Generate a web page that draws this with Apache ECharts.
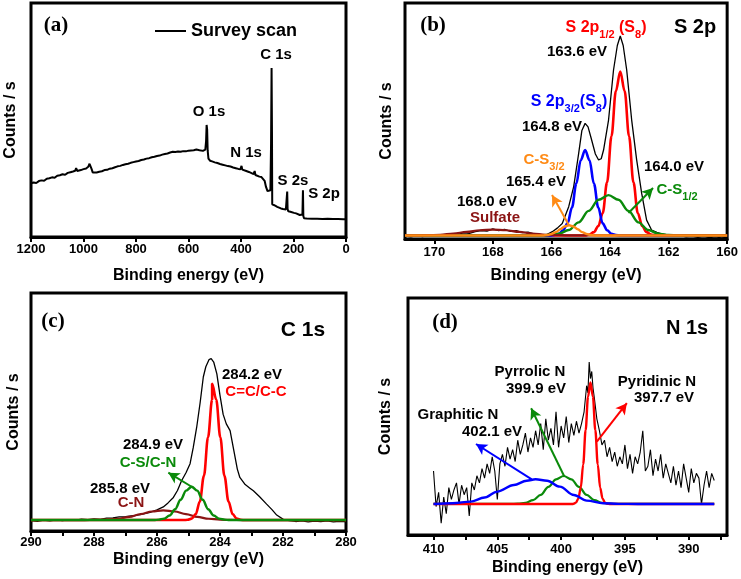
<!DOCTYPE html>
<html><head><meta charset="utf-8">
<script src="https://cdn.jsdelivr.net/npm/echarts@6/dist/echarts.min.js"></script>
<style>html,body{margin:0;padding:0;background:#fff}#c{width:741px;height:579px}</style>
</head><body><div id="c"></div>
<script>
// ---------- DATA ----------
// (a) survey scan: [binding energy eV, counts (arb.)]
const survey = [[1200,23.0],[1190,23.3],[1180,23.1],[1170,23.9],[1160,24.2],[1150,24.0],[1140,24.9],[1130,25.1],[1120,25.5],[1110,25.3],[1100,26.2],[1090,26.4],[1080,26.8],[1070,26.6],[1060,27.4],[1050,27.7],[1040,28.0],[1032,28.3],[1028,29.4],[1024,28.2],[1010,28.6],[1000,29.0],[990,29.3],[982,30.0],[977,31.3],[973,31.0],[969,29.0],[965,27.6],[958,27.4],[950,27.6],[940,27.9],[930,28.1],[920,28.6],[910,28.7],[900,29.2],[890,29.4],[880,29.8],[870,30.2],[860,30.4],[850,30.8],[840,31.1],[830,31.3],[820,31.7],[810,32.0],[800,32.3],[790,32.5],[780,32.9],[770,33.1],[760,33.5],[750,33.7],[740,34.1],[730,34.3],[720,34.6],[710,34.8],[700,35.2],[690,35.5],[680,35.7],[670,36.1],[660,36.4],[650,36.3],[640,36.5],[630,36.4],[620,36.7],[610,36.6],[600,36.9],[590,37.0],[580,37.1],[570,37.4],[563,38.0],[558,37.1],[552,36.3],[545,36.8],[536,37.3],[533,41],[531,47.9],[529,46],[527,37],[524,33.5],[518,32.6],[510,32.3],[500,31.9],[490,31.6],[480,31.2],[470,30.9],[460,30.6],[450,30.3],[440,30.1],[430,29.7],[420,29.4],[410,29.1],[402,29.0],[398,30.4],[395,28.8],[390,28.6],[380,28.2],[370,27.8],[360,27.3],[352,26.9],[348,28.2],[345,26.5],[340,26.3],[330,25.8],[322,25.6],[316,25.2],[310,24.0],[305,21.5],[299,19.6],[292,18.9],[288,20],[285.5,40],[283.5,72.2],[282,45],[281,14.0],[277,13.9],[270,13.4],[262,12.9],[255,12.6],[248,12.2],[240,12.0],[233,11.6],[229,11.8],[225.5,12],[224,19.4],[222.5,12],[220,11.0],[212,10.8],[205,10.7],[198,10.3],[190,10.1],[183,9.6],[176,9.4],[169,9.3],[166,9.6],[164,20.0],[162.5,9],[160,8.0],[150,7.9],[130,7.8],[110,7.8],[90,7.7],[70,7.8],[50,7.7],[30,7.7],[10,7.6],[0,7.6]];

// (b) S 2p
const s2pRaw = [[171.0,1.2],[170.8,0.9],[170.6,1.4],[170.4,1.0],[170.2,1.6],[170.0,1.3],[169.8,1.8],[169.6,1.5],[169.4,2.2],[169.2,2.0],[169.0,2.6],[168.8,2.4],[168.6,3.1],[168.4,3.6],[168.2,3.3],[168.0,4.3],[167.8,3.6],[167.6,4.1],[167.4,3.2],[167.2,3.5],[167.0,2.7],[166.8,2.9],[166.6,2.2],[166.4,1.9],[166.2,1.6],[165.97,3.1],[165.8,4.6],[165.63,6.6],[165.41,13.7],[165.24,22.2],[165.07,36.3],[164.96,46],[164.85,49],[164.75,47.5],[164.65,43],[164.5,36],[164.39,33.5],[164.3,34],[164.22,37.7],[164.05,50.4],[163.88,71.6],[163.75,82],[163.65,86],[163.55,82],[163.43,71.6],[163.26,50.4],[163.09,33.5],[162.92,19.4],[162.75,8.0],[162.58,3.8],[162.4,2.8],[162.24,2.2],[162.0,1.7],[161.8,1.2],[161.6,1.4],[161.4,0.9],[161.2,1.1],[161.0,0.7],[160.8,1.0],[160.6,0.6],[160.4,0.9],[160.2,0.5],[160.0,0.7]];
const s2p12 = [[171,1.5],[164.85,1.5],[164.7,1.9],[164.55,2.9],[164.4,5.5],[164.25,10.9],[164.1,24.0],[163.95,43.5],[163.8,62.7],[163.65,71.0],[163.5,62.7],[163.35,43.5],[163.2,24.0],[163.05,10.9],[162.9,5.5],[162.75,2.9],[162.6,1.9],[162.45,1.5],[160,1.5]];
const s2p32 = [[171,1.5],[166.05,1.5],[165.9,1.7],[165.75,2.2],[165.6,3.7],[165.45,6.6],[165.3,13.3],[165.15,23.5],[165.0,33.4],[164.85,37.7],[164.7,33.4],[164.55,23.5],[164.4,13.3],[164.25,6.6],[164.1,3.7],[163.95,2.2],[163.8,1.7],[163.65,1.5],[160,1.5]];
const cs12 = [[171,1.5],[166.45,1.5],[166.09,1.7],[165.75,2.25],[165.41,3.8],[165.07,7.05],[164.73,11.9],[164.39,16.6],[164.05,18.6],[163.71,16.6],[163.37,11.9],[163.03,7.05],[162.69,3.8],[162.35,2.25],[162.01,1.7],[161.65,1.5],[160,1.5]];
const cs32 = [[171,1.5],[166.3,1.5],[166.15,1.7],[166.0,2.1],[165.85,2.9],[165.7,4.1],[165.55,5.3],[165.4,5.8],[165.25,5.3],[165.1,4.1],[164.95,2.9],[164.8,2.1],[164.65,1.7],[164.5,1.5],[160,1.5]];
const sulfate = [[171,1.5],[170.7,1.5],[170.25,1.6],[169.8,1.8],[169.35,2.3],[168.9,3.0],[168.45,3.7],[168.0,4.0],[167.55,3.7],[167.1,3.0],[166.65,2.3],[166.2,1.8],[165.75,1.6],[165.3,1.5],[160,1.5]];

// (c) C 1s
const c1sRaw = [[290.0,4.4],[289.8,4.1],[289.6,4.6],[289.4,4.3],[289.2,4.7],[289.0,4.4],[288.8,4.8],[288.6,4.5],[288.4,5.0],[288.2,4.8],[288.0,5.1],[287.8,4.9],[287.6,5.4],[287.4,5.5],[287.2,5.9],[287.0,6.0],[286.75,6.4],[286.5,7.0],[286.22,7.8],[286.0,8.9],[285.8,10.1],[285.65,11.8],[285.48,14.1],[285.35,17.0],[285.22,21.1],[285.08,24.5],[284.95,28.3],[284.85,35],[284.74,43.6],[284.63,54],[284.53,64.7],[284.45,69],[284.35,72],[284.28,72.4],[284.2,71],[284.1,66],[284.0,57],[283.9,49],[283.8,45],[283.68,42.2],[283.55,33],[283.45,26],[283.37,22.5],[283.2,19.5],[283.05,18.0],[282.94,16.9],[282.75,14.5],[282.52,11.3],[282.35,9.0],[282.2,6.7],[281.99,4.9],[281.8,4.4],[281.6,4.0],[281.4,4.3],[281.2,3.8],[281.0,4.2],[280.8,3.9],[280.6,4.3],[280.4,3.8],[280.2,4.1],[280.0,4.0]];
const cc = [[290,4.6],[285.16,4.6],[285.03,4.7],[284.9,5.2],[284.77,7.1],[284.64,12.4],[284.51,23.2],[284.38,39.4],[284.25,55.2],[284.25,61.9],[284.12,55.2],[283.99,39.4],[283.86,23.2],[283.73,12.4],[283.6,7.1],[283.47,5.2],[283.34,4.7],[283.2,4.6],[280,4.6]];
const csCn = [[290,4.6],[286.1,4.6],[285.95,4.76],[285.775,5.2],[285.6,6.5],[285.425,9.15],[285.25,13.1],[285.075,16.96],[284.9,18.6],[284.725,16.96],[284.55,13.1],[284.375,9.15],[284.2,6.5],[284.025,5.2],[283.85,4.76],[283.7,4.6],[280,4.6]];
const cn = [[290,4.6],[288.3,4.6],[287.96,4.65],[287.6,4.78],[287.24,5.15],[286.88,5.9],[286.52,7.1],[286.16,8.2],[285.8,8.7],[285.44,8.2],[285.08,7.1],[284.72,5.9],[284.36,5.15],[284.0,4.78],[283.64,4.65],[283.3,4.6],[280,4.6]];

// (d) N 1s
const n1sRaw = [[410.0,27],[409.8,12],[409.6,18],[409.4,5],[409.2,16],[409.0,9],[408.8,20],[408.6,15],[408.4,19],[408.2,22],[408.0,13],[407.8,21],[407.6,17],[407.4,20],[407.2,8],[407.0,22],[406.8,19],[406.6,25],[406.4,22],[406.2,28],[406.0,24],[405.8,30],[405.6,26],[405.4,33],[405.2,27],[405.0,15],[404.8,30],[404.6,34],[404.4,29],[404.2,37],[404.0,32],[403.8,36],[403.6,31],[403.4,40],[403.2,34],[403.0,38],[402.8,43],[402.6,35],[402.4,41],[402.2,37],[402.0,44],[401.8,38],[401.6,47],[401.4,36],[401.2,49],[401.0,40],[400.8,45],[400.6,38],[400.4,52],[400.2,37],[400.0,46],[399.8,41],[399.6,50],[399.4,39],[399.2,47],[399.0,42],[398.8,48],[398.6,43],[398.4,47],[398.2,52],[398.0,63],[397.9,60],[397.8,73],[397.7,66],[397.6,69],[397.5,62],[397.4,58],[397.2,49],[397.0,44],[396.8,38],[396.6,40],[396.4,33],[396.2,37],[396.0,31],[395.8,35],[395.6,29],[395.4,33],[395.2,30],[395.0,38],[394.8,28],[394.6,34],[394.4,26],[394.2,33],[394.0,30],[393.8,35],[393.6,44],[393.4,27],[393.2,29],[393.0,36],[392.8,25],[392.6,32],[392.4,27],[392.2,34],[392.0,24],[391.8,30],[391.6,26],[391.4,22],[391.2,29],[391.0,21],[390.8,27],[390.6,20],[390.4,30],[390.2,24],[390.0,18],[389.8,28],[389.6,22],[389.4,26],[389.2,24],[389.0,13],[388.8,21],[388.6,27],[388.4,20],[388.2,26],[388.0,23]];
const pyridinic = [[410,13.1],[399.1,13.1],[399.03,13.2],[398.84,13.67],[398.65,15.35],[398.46,20.0],[398.27,29.8],[398.08,44.2],[397.89,58.4],[397.7,64.4],[397.51,58.4],[397.32,44.2],[397.13,29.8],[396.94,20.0],[396.75,15.35],[396.56,13.67],[396.37,13.2],[396.2,13.1],[388,13.1]];
const pyrrolic = [[410,13.1],[404.0,13.1],[403.4,13.2],[402.8,13.6],[402.2,14.7],[401.6,16.9],[401.0,20.3],[400.4,23.5],[399.8,24.9],[399.2,23.5],[398.6,20.3],[398.0,16.9],[397.4,14.7],[396.8,13.6],[396.2,13.2],[395.6,13.1],[388,13.1]];
const graphitic = [[410.0,13.1],[408.5,13.4],[407.1,14.1],[406.0,15.8],[405.0,18.3],[403.7,21.1],[402.7,22.9],[402.0,23.5],[401.1,22.9],[400.1,20.4],[399.0,16.9],[398.0,14.5],[396.7,13.4],[395.5,13.15],[394.0,13.1],[388.0,13.1]];

// tick values
const ticksA = [0,200,400,600,800,1000,1200];
const ticksB = [160,162,164,166,168,170];
const labelsC = [280,282,284,286,288,290];
const ticksC = [280,281,282,283,284,285,286,287,288,289,290];
const labelsD = [390,395,400,405,410];
const ticksD = [387.5,390,392.5,395,397.5,400,402.5,405,407.5,410];

// ---------- CHART ----------
const FONT = '"Liberation Sans", Arial, sans-serif';
const SERIF = '"Liberation Serif", "Times New Roman", serif';
const RED = '#ff0000', BLUE = '#0000ff', GREEN = '#0a8a0a', ORANGE = '#ff8a14', BROWN = '#8b1414';

const grids = [
  {left: 31, top: 3, width: 315, height: 234},
  {left: 405, top: 3, width: 325, height: 236},
  {left: 31, top: 293, width: 315, height: 238},
  {left: 408, top: 298, width: 319, height: 237}
].map(g => Object.assign(g, {show: true, borderColor: '#000', borderWidth: 3, backgroundColor: 'transparent'}));

function xAx(i, min, max, labels, ticks, margin, gap) {
  return {
    gridIndex: i, type: 'value', inverse: true, min, max,
    axisLine: {show: true, onZero: false, lineStyle: {color: '#000', width: 3}},
    axisTick: {show: true, inside: false, length: 5, lineStyle: {color: '#000', width: 2}, customValues: ticks},
    axisLabel: {show: true, margin, color: '#000', fontFamily: FONT, fontWeight: 'bold', fontSize: 13,
      customValues: labels, formatter: v => String(v)},
    splitLine: {show: false},
    name: 'Binding energy (eV)', nameLocation: 'middle', nameGap: gap,
    nameTextStyle: {color: '#000', fontFamily: FONT, fontWeight: 'bold', fontSize: 16}
  };
}
function yAx(i, gap) {
  return {
    gridIndex: i, type: 'value', min: 0, max: 100,
    axisLine: {show: false}, axisTick: {show: false}, axisLabel: {show: false}, splitLine: {show: false},
    name: 'Counts / s', nameLocation: 'middle', nameRotate: 90, nameGap: gap,
    nameTextStyle: {color: '#000', fontFamily: FONT, fontWeight: 'bold', fontSize: 16}
  };
}
function ln(name, i, data, color, width, z, extra) {
  return Object.assign({
    name, type: 'line', xAxisIndex: i, yAxisIndex: i, data,
    symbol: 'none', showSymbol: false, z,
    lineStyle: {color, width}, itemStyle: {color},
    emphasis: {disabled: true}, animation: false
  }, extra || {});
}
function arrow(color, from, to) {
  return {
    markLine: {
      silent: true, animation: false, symbol: ['none', 'arrow'], symbolSize: [9, 11],
      lineStyle: {color, width: 2, type: 'solid'}, label: {show: false},
      emphasis: {disabled: true},
      data: [[{coord: from}, {coord: to}]]
    }
  };
}
const sm = {smooth: 0.35, smoothMonotone: 'x'};

function T(x, y, text, size, color, fam) {
  return {type: 'text', x, y, z: 100, silent: true, style: {
    text, fill: color || '#000', font: 'bold ' + (size || 15) + 'px ' + (fam || FONT),
    textAlign: 'center', textVerticalAlign: 'middle', align: 'center', verticalAlign: 'middle'}};
}
function TR(x, y, text, size, color) {
  const n = {fontSize: size, fontWeight: 'bold', fontFamily: FONT, fill: color, lineHeight: 24, verticalAlign: 'middle'};
  const s = {fontSize: 11, fontWeight: 'bold', fontFamily: FONT, fill: color, lineHeight: 12, verticalAlign: 'bottom'};
  return {type: 'text', x, y, z: 100, silent: true, style: {
    text, rich: {n, s}, fill: color, font: 'bold ' + size + 'px ' + FONT,
    textAlign: 'center', textVerticalAlign: 'middle', align: 'center', verticalAlign: 'middle'}};
}

const option = {
  animation: false,
  backgroundColor: '#fff',
  grid: grids,
  xAxis: [
    xAx(0, 0, 1200, ticksA, ticksA, 6, 31),
    xAx(1, 160, 171, ticksB, ticksB, 7, 29),
    xAx(2, 280, 290, labelsC, ticksC, 5, 21),
    xAx(3, 387, 412, labelsD, ticksD, 8, 25)
  ],
  yAxis: [yAx(0, 12), yAx(1, 10), yAx(2, 9), yAx(3, 14)],
  legend: {
    data: ['Survey scan'], left: 150, top: 17, itemWidth: 31, itemHeight: 2, itemGap: 5,
    icon: 'rect', selectedMode: false,
    textStyle: {fontSize: 18, fontWeight: 'bold', color: '#000', fontFamily: FONT}
  },
  series: [
    ln('Survey scan', 0, survey, '#000', 2, 2),

    ln('S 2p raw', 1, s2pRaw, '#000', 1.3, 2),
    ln('S 2p1/2', 1, s2p12, RED, 2.6, 3, sm),
    ln('S 2p3/2', 1, s2p32, BLUE, 2.6, 3, sm),
    ln('C-S1/2', 1, cs12, GREEN, 2.4, 4, Object.assign({}, sm, arrow(GREEN, [163.37, 11.0], [162.53, 21.6]))),
    ln('Sulfate', 1, sulfate, BROWN, 2.2, 5, sm),
    ln('C-S3/2', 1, cs32, ORANGE, 2.4, 6, Object.assign({}, sm, arrow(ORANGE, [165.4, 5.8], [165.98, 18.6]))),

    ln('C 1s raw', 2, c1sRaw, '#000', 1.3, 2),
    ln('C-N', 2, cn, BROWN, 2.2, 3, sm),
    ln('C=C/C-C', 2, cc, RED, 2.6, 4, sm),
    ln('C-S/C-N', 2, csCn, GREEN, 2.4, 5, Object.assign({}, sm, arrow(GREEN, [284.9, 18.6], [285.64, 24.5]))),

    ln('N 1s raw', 3, n1sRaw, '#000', 1.1, 2),
    ln('Pyrrolic N', 3, pyrrolic, GREEN, 2.2, 3, Object.assign({}, sm, arrow(GREEN, [399.74, 24.6], [402.35, 53.5]))),
    ln('Pyridinic N', 3, pyridinic, RED, 2.4, 4, Object.assign({}, sm, arrow(RED, [397.2, 39.4], [394.85, 55.6]))),
    ln('Graphitic N', 3, graphitic, BLUE, 2.4, 5, Object.assign({}, sm, arrow(BLUE, [402.3, 23.5], [406.67, 38.4])))
  ],
  graphic: [
    // (a)
    T(56, 26, '(a)', 21, '#000', SERIF),
    T(209, 112, 'O 1s', 15), T(276, 55, 'C 1s', 15), T(246, 153, 'N 1s', 15),
    T(293, 181, 'S 2s', 15), T(324, 194, 'S 2p', 15),
    // (b)
    T(433, 26, '(b)', 21, '#000', SERIF),
    T(695, 27, 'S 2p', 20),
    TR(606, 28, '{n|S 2p}{s|1/2}{n| (S}{s|8}{n|)}', 16, RED),
    T(577, 52, '163.6 eV', 15),
    TR(569, 102, '{n|S 2p}{s|3/2}{n|(S}{s|8}{n|)}', 16, BLUE),
    T(552, 127, '164.8 eV', 15),
    TR(544, 160, '{n|C-S}{s|3/2}', 15, ORANGE),
    T(536, 182, '165.4 eV', 15),
    T(674, 167, '164.0 eV', 15),
    TR(677, 190, '{n|C-S}{s|1/2}', 15, GREEN),
    T(487, 202, '168.0 eV', 15),
    T(495, 218, 'Sulfate', 15, BROWN),
    // (c)
    T(53, 322, '(c)', 21, '#000', SERIF),
    T(303, 330, 'C 1s', 21),
    T(252, 375, '284.2 eV', 15), T(256, 392, 'C=C/C-C', 15, RED),
    T(153, 445, '284.9 eV', 15), T(148, 463, 'C-S/C-N', 15, GREEN),
    T(120, 489, '285.8 eV', 15), T(131, 503, 'C-N', 15, BROWN),
    // (d)
    T(445, 323, '(d)', 21, '#000', SERIF),
    T(687, 328, 'N 1s', 20),
    T(530, 372, 'Pyrrolic N', 15), T(536, 389, '399.9 eV', 15),
    T(657, 382, 'Pyridinic N', 15), T(664, 398, '397.7 eV', 15),
    T(458, 415, 'Graphitic N', 15), T(492, 432, '402.1 eV', 15)
  ]
};
const chart = echarts.init(document.getElementById('c'), null, {renderer: 'canvas'});
chart.setOption(option);
</script></body></html>
